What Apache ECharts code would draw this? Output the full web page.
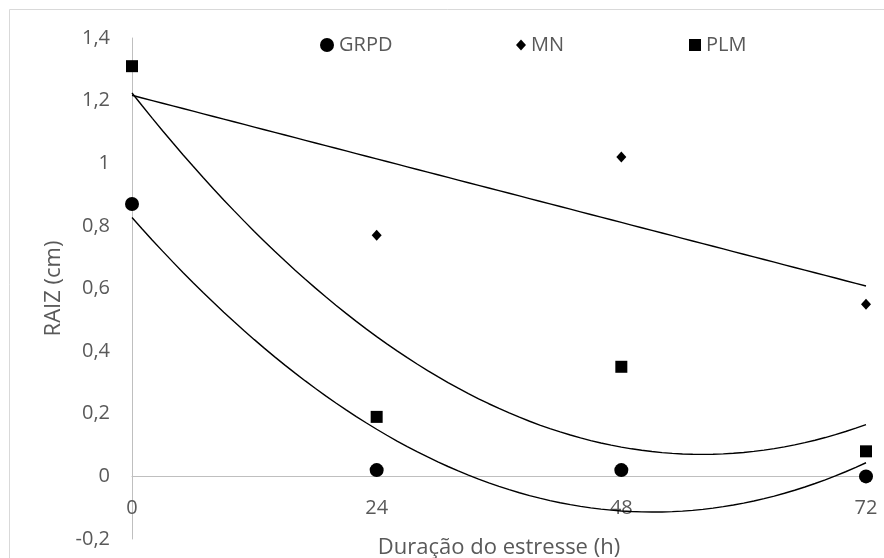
<!DOCTYPE html>
<html>
<head>
<meta charset="utf-8">
<script src="https://cdn.jsdelivr.net/npm/echarts@6/dist/echarts.min.js"></script>
<style>html,body{margin:0;padding:0;background:#fff}#c{width:884px;height:558px}</style>
</head>
<body>
<div id="c"></div>
<script>
// Data
const hours = [0, 24, 48, 72];
const grpd = [0.87, 0.02, 0.02, 0.00];
const mn   = [1.31, 0.77, 1.02, 0.55];
const plm  = [1.31, 0.19, 0.35, 0.08];
const yTicks = [-0.2, 0, 0.2, 0.4, 0.6, 0.8, 1, 1.2, 1.4];

// Least-squares polynomial trend line (like the spreadsheet trendline) fitted to the data
function polyfit(xs, ys, deg) {
  const n = deg + 1;
  const A = Array.from({length: n}, () => new Array(n + 1).fill(0));
  for (let k = 0; k < xs.length; k++) {
    for (let i = 0; i < n; i++) {
      for (let j = 0; j < n; j++) A[i][j] += Math.pow(xs[k], i + j);
      A[i][n] += ys[k] * Math.pow(xs[k], i);
    }
  }
  for (let i = 0; i < n; i++) {
    let p = i;
    for (let r = i + 1; r < n; r++) if (Math.abs(A[r][i]) > Math.abs(A[p][i])) p = r;
    [A[i], A[p]] = [A[p], A[i]];
    for (let r = 0; r < n; r++) {
      if (r === i) continue;
      const f = A[r][i] / A[i][i];
      for (let c = i; c <= n; c++) A[r][c] -= f * A[i][c];
    }
  }
  return A.map((row, i) => row[n] / row[i]);
}
function trend(xs, ys, deg) {
  const c = polyfit(xs, ys, deg);
  const out = [];
  for (let x = xs[0]; x <= xs[xs.length - 1]; x += 1) {
    let y = 0;
    c.forEach((ci, i) => { y += ci * Math.pow(x, i); });
    out.push([x, y]);
  }
  return out;
}
const pts = arr => hours.map((h, i) => [h, arr[i]]);

const chart = echarts.init(document.getElementById('c'), null, {renderer: 'canvas'});
const font = "'Open Sans', 'Liberation Sans', sans-serif";
const txt = '#595959';
const lineStyle = {color: '#000', width: 1.4};
const legendBase = {top: 30, itemWidth: 14, itemHeight: 14, itemGap: 6,
  textStyle: {color: txt, fontSize: 20, fontFamily: font}};

// Plot area geometry: y from -0.2 (bottom) to 1.4 (top); x axis line drawn at y = 0
const gridTop = 38, gridBottom = 19, chartH = 558;
const plotH = chartH - gridTop - gridBottom;
const zeroOffset = -plotH * (0 - yTicks[0]) / (yTicks[yTicks.length - 1] - yTicks[0]);

chart.setOption({
  animation: false,
  backgroundColor: '#fff',
  graphic: [{type: 'rect', shape: {x: 9.5, y: 9.5, width: 900, height: 600},
    style: {fill: 'none', stroke: '#d9d9d9', lineWidth: 1}, silent: true}],
  legend: [
    Object.assign({}, legendBase, {left: 315, data: [{name: 'GRPD', icon: 'circle'}]}),
    Object.assign({}, legendBase, {left: 511, itemWidth: 10, itemHeight: 11, data: [{name: 'MN', icon: 'diamond'}]}),
    Object.assign({}, legendBase, {left: 684, itemWidth: 12, itemHeight: 12, data: [{name: 'PLM', icon: 'rect'}]})
  ],
  grid: {left: 132, right: 18, top: gridTop, bottom: gridBottom, containLabel: false, outerBoundsMode: 'none'},
  xAxis: {
    type: 'value', min: 0, max: 72, interval: 24,
    offset: zeroOffset,
    name: 'Duração do estresse (h)', nameLocation: 'middle', nameGap: 60,
    nameTextStyle: {color: txt, fontSize: 22, fontFamily: font},
    axisLine: {show: true, onZero: false, lineStyle: {color: '#bfbfbf', width: 1}},
    axisTick: {show: false},
    splitLine: {show: false},
    axisLabel: {color: txt, fontSize: 20, fontFamily: font, margin: 22,
      formatter: v => String(v)}
  },
  yAxis: {
    type: 'value', min: yTicks[0], max: yTicks[yTicks.length - 1], interval: 0.2,
    name: 'RAIZ (cm)', nameLocation: 'middle', nameGap: 63, nameRotate: 90,
    nameTextStyle: {color: txt, fontSize: 22, fontFamily: font},
    axisLine: {show: true, lineStyle: {color: '#bfbfbf', width: 1}},
    axisTick: {show: false},
    splitLine: {show: false},
    axisLabel: {color: txt, fontSize: 20, fontFamily: font, margin: 22,
      formatter: v => {
        const r = Math.round(v * 10) / 10;
        return String(r).replace('.', ',');
      }}
  },
  series: [
    {name: 'trend-GRPD', type: 'line', data: trend(hours, grpd, 2), showSymbol: false,
      lineStyle: lineStyle, silent: true, z: 1},
    {name: 'trend-MN', type: 'line', data: trend(hours, mn, 1), showSymbol: false,
      lineStyle: lineStyle, silent: true, z: 1},
    {name: 'trend-PLM', type: 'line', data: trend(hours, plm, 2), showSymbol: false,
      lineStyle: lineStyle, silent: true, z: 1},
    {name: 'GRPD', type: 'scatter', data: pts(grpd), symbol: 'circle', symbolSize: 14,
      itemStyle: {color: '#000', opacity: 1}, z: 3},
    {name: 'MN', type: 'scatter', data: pts(mn), symbol: 'diamond', symbolSize: [10, 11],
      itemStyle: {color: '#000', opacity: 1}, z: 3},
    {name: 'PLM', type: 'scatter', data: pts(plm), symbol: 'rect', symbolSize: 12,
      itemStyle: {color: '#000', opacity: 1}, z: 4}
  ]
});
</script>
</body>
</html>
